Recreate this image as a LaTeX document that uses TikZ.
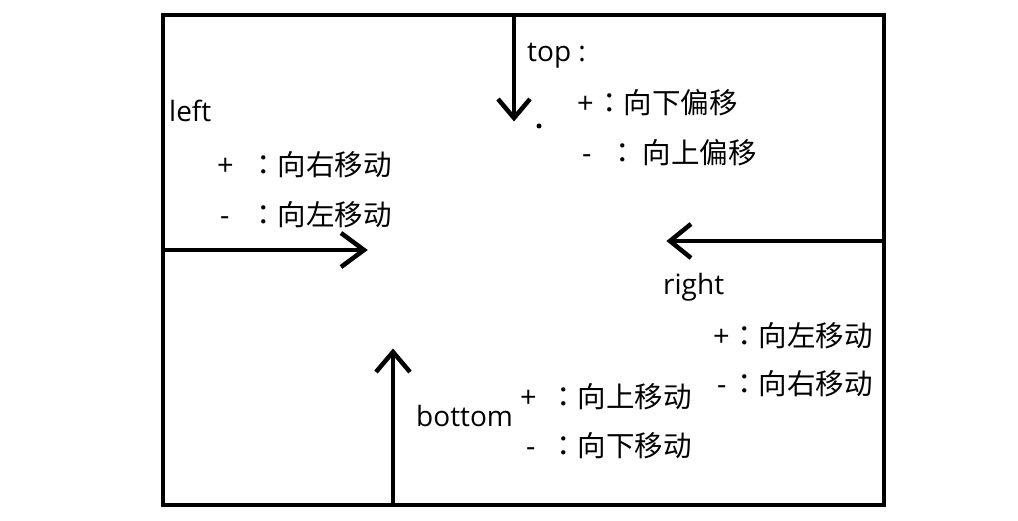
\documentclass[tikz,border=0pt]{standalone}
\usepackage{fontspec}
\setmainfont{Open Sans}
\newfontfamily\cjk{Noto Sans CJK SC}
\newfontfamily\cjkjp{Noto Sans CJK JP}
\newcommand{\zcolon}{{\cjkjp ：}}
\begin{document}
\begin{tikzpicture}[x=1pt,y=-1pt,
  bold/.style={line width=4.5pt},
  arr/.style={line width=4.5pt,line join=miter},
  lat/.style={inner sep=0pt,anchor=base west,font=\fontsize{28}{30}\selectfont},
  sign/.style={inner sep=0pt,anchor=base west,font=\fontsize{29}{30}\selectfont},
  zh/.style={inner sep=0pt,anchor=base east,font=\cjk\fontsize{28.5}{30}\selectfont}]
\useasboundingbox (0,0) rectangle (1018,521);
\draw[bold] (163,15) rectangle (884,505);
% top arrow
\coordinate (t0) at (514,15); \coordinate (t1) at (514,118);
\draw[bold] (t0) -- (t1);
\draw[arr] (498,99) -- (t1) -- (530,99);
\fill (539,126) circle (2.5);
% left arrow
\coordinate (l0) at (163,250); \coordinate (l1) at (364,250);
\draw[bold] (l0) -- (l1);
\draw[arr] (341,233) -- (l1) -- (341,267);
% right arrow
\coordinate (r0) at (884,241); \coordinate (r1) at (670,241);
\draw[bold] (r0) -- (r1);
\draw[arr] (691,224) -- (r1) -- (691,258);
% bottom arrow
\coordinate (b0) at (393,505); \coordinate (b1) at (393,352);
\draw[bold] (b0) -- (b1);
\draw[arr] (376,372) -- (b1) -- (410,372);
% texts
\node[lat] (ttop) at (527,62) {top :};
\node[sign] (tp) at (577,114) {+};
\node[zh] (tpz) at (738,114) {\zcolon 向下偏移};
\node[sign] (tm) at (582,164) {-};
\node[zh] (tmz) at (757,164) {\zcolon\hspace{6pt}向上偏移};
\node[lat] (tleft) at (169,122) {left};
\node[sign] (lp) at (217,176) {+};
\node[zh] (lpz) at (392,176) {\zcolon 向右移动};
\node[sign] (lm) at (220,226) {-};
\node[zh] (lmz) at (392,226) {\zcolon 向左移动};
\node[lat] (tright) at (663,295) {right};
\node[sign] (rp) at (713,347) {+};
\node[zh] (rpz) at (873,347) {\zcolon 向左移动};
\node[sign] (rm) at (717,395) {-};
\node[zh] (rmz) at (873,395) {\zcolon 向右移动};
\node[lat] (tbottom) at (416,426) {bottom};
\node[sign] (bp) at (520,408) {+};
\node[zh] (bpz) at (692,408) {\zcolon 向上移动};
\node[sign] (bm) at (526,456) {-};
\node[zh] (bmz) at (692,456) {\zcolon 向下移动};
\end{tikzpicture}
\end{document}
